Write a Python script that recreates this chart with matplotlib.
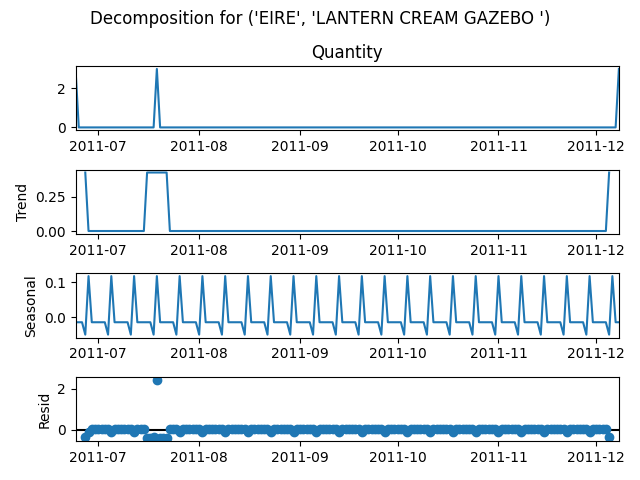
import numpy as np
import pandas as pd
import matplotlib
matplotlib.use("Agg")
import matplotlib.pyplot as plt

# days with sales (all other days in the range are zero)
sale_dates = ["2011-06-24", "2011-07-19", "2011-12-08"]
sale_qty = [3, 3, 3]
first_day = "2011-06-24"
last_day = "2011-12-08"
period = 7

days = pd.date_range(first_day, last_day, freq="D")
quantity = pd.Series(sale_qty, index=pd.to_datetime(sale_dates), name="Quantity")
quantity = quantity.reindex(days, fill_value=0).astype(float)

# additive decomposition (centred moving average, weekly seasonality)
trend = quantity.rolling(period, center=True).mean()
detrended = (quantity - trend).to_numpy()
avgs = np.array([np.nanmean(detrended[i::period]) for i in range(period)])
avgs = avgs - avgs.mean()
seasonal = pd.Series(np.tile(avgs, len(days) // period + 1)[:len(days)], index=days)
resid = quantity - trend - seasonal

fig, axs = plt.subplots(4, 1, figsize=(6.4, 4.8), dpi=100)
xlim = (days[0], days[-1])

axs[0].plot(quantity)
axs[0].set_title("Quantity")
axs[1].plot(trend)
axs[1].set_ylabel("Trend")
axs[2].plot(seasonal)
axs[2].set_ylabel("Seasonal")
axs[3].plot(resid, marker="o", linestyle="none")
axs[3].plot(xlim, (0, 0), color="#000000", zorder=-3)
axs[3].set_ylabel("Resid")

for ax in axs:
    ax.set_xlim(xlim)

fig.suptitle("Decomposition for ('EIRE', 'LANTERN CREAM GAZEBO ')")
fig.subplots_adjust(left=0.118, right=0.967, top=0.8625, bottom=0.081, hspace=0.61)
fig.savefig("out.png")
